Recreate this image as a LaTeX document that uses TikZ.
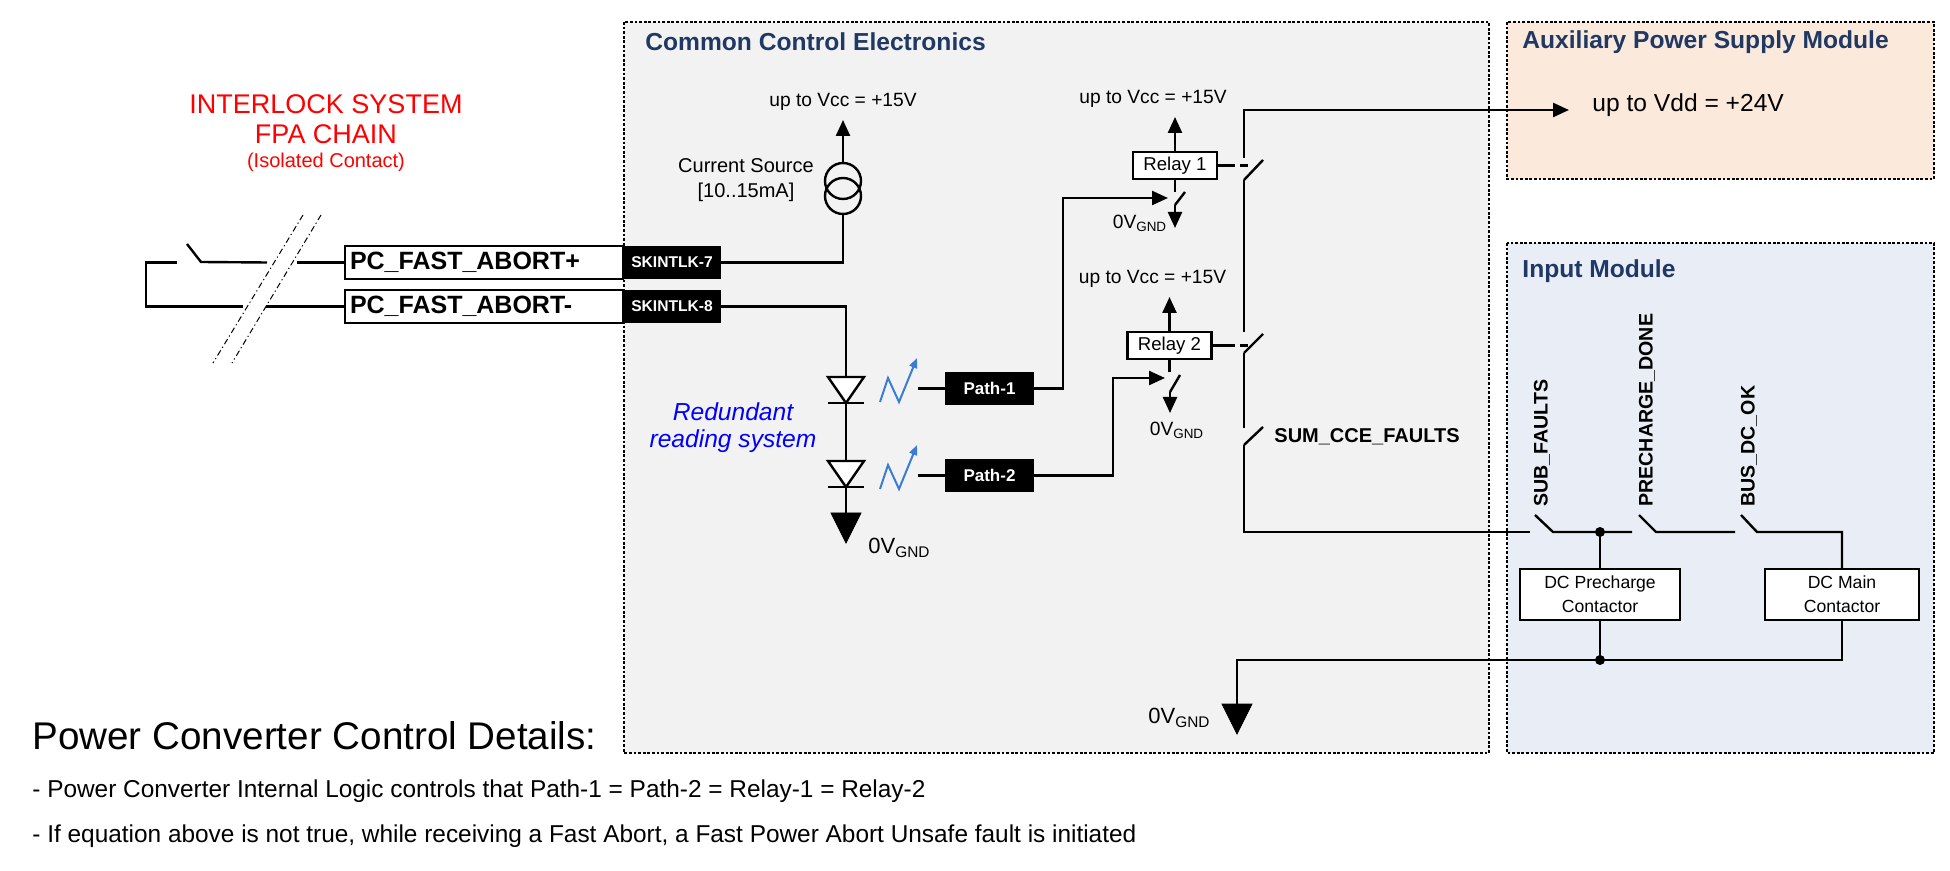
\documentclass[tikz,border=0pt]{standalone}
\usepackage{fontspec}
\setmainfont{Liberation Sans}
\usetikzlibrary{arrows.meta,calc}
\definecolor{titleblue}{HTML}{1F3864}
\definecolor{ccegray}{HTML}{F2F2F2}
\definecolor{auxpeach}{HTML}{FBE9DB}
\definecolor{inpblue}{HTML}{E9EEF6}
\definecolor{ledblue}{HTML}{3A7BD5}
\newcommand\fs[2]{\fontsize{#1}{#2}\selectfont}
\tikzset{
  module/.style={draw, line width=0.9pt, dash pattern=on 1.4pt off 0.9pt},
  modtitle/.style={anchor=west, inner sep=0, text=titleblue, font=\bfseries\fs{12.3}{14}},
  wire/.style={line width=1.2pt},
  tip/.style={-{Triangle[length=8pt,width=7pt]}},
  volt/.style={inner sep=0, font=\fs{9.6}{12}},
  sigbox/.style={draw, line width=0.8pt, fill=white, minimum width=139pt, minimum height=16.5pt,
    inner sep=0, text width=134pt, align=left, font=\bfseries\fs{12.5}{14}},
  termbox/.style={fill=black, text=white, minimum width=49pt, minimum height=16.5pt, inner sep=0,
    font=\bfseries\fs{7.8}{9}},
  pathbox/.style={fill=black, text=white, minimum width=44.5pt, minimum height=16.5pt, inner sep=0,
    font=\bfseries\fs{8.5}{10}},
  relay/.style={draw, line width=1.2pt, fill=white, minimum width=42pt, minimum height=13.5pt,
    inner sep=0, font=\fs{9.3}{11}},
  contactor/.style={draw, line width=1.2pt, fill=white, minimum height=25.5pt, inner sep=0,
    align=center, font=\fs{8.8}{12}},
  led/.style={line width=1pt, ledblue, -{Triangle[length=5pt,width=4pt]}},
  brk/.style={line width=0.5pt, dash pattern=on 3pt off 1.5pt on 0.6pt off 1.5pt},
  siglabel/.style={rotate=90, anchor=west, inner sep=0, font=\bfseries\fs{9.8}{11}},
}
\begin{document}
\begin{tikzpicture}[x=0.5pt,y=-0.5pt]
\useasboundingbox (0,0) rectangle (1950,871);

% modules
\draw[module, fill=ccegray] (624,22) rectangle (1489,753);
\draw[module, fill=auxpeach] (1507,22) rectangle (1934,179);
\draw[module, fill=inpblue] (1507,243) rectangle (1934,753);
\node[modtitle] at (645,42) {Common Control Electronics};
\node[modtitle] at (1522,42) {Auxiliary Power Supply Module};
\node[modtitle] at (1522,271) {Input Module};

% interlock side
\node[text=red, font=\fs{13.5}{15}] at (326,104) {INTERLOCK SYSTEM};
\node[text=red, font=\fs{13.5}{15}] at (326,134) {FPA CHAIN};
\node[text=red, font=\fs{10}{12}] at (326,162) {(Isolated Contact)};

\node[sigbox] (sigP) at (484,262.5) {PC\_FAST\_ABORT+};
\node[sigbox] (sigM) at (484,306.5) {PC\_FAST\_ABORT-};
\node[termbox] (term7) at (672,262.5) {SKINTLK-7};
\node[termbox] (term8) at (672,306.5) {SKINTLK-8};

% loop with isolated contact
\coordinate (swA) at (187,244);
\coordinate (swB) at (201,262);
\draw[wire] (sigP.west) -- (297,262.5);
\draw[wire] (267,262.5) -- (swB) -- (swA);
\draw[wire] (177,262.5) -- (146,262.5) -- (146,306.5) -- (243,306.5);
\draw[wire] (266,306.5) -- (sigM.west);
\draw[brk] (303,215) -- (213,363);
\draw[brk] (321,215) -- (232,363);

% current source
\coordinate (csT) at (843,163);
\coordinate (csB) at (843,213);
\draw[wire] (843,181) circle (9pt);
\draw[wire] (843,196) circle (9pt);
\draw[wire] (term7.east) -| (csB);
\draw[wire, tip] (csT) -- (843,120) node[volt, above=4pt] {up to Vcc = +15V};
\node[font=\fs{10}{12}] at (746,166) {Current Source};
\node[font=\fs{10}{12}] at (746,192) {[10..15mA]};

% redundant reading: two opto diodes
\draw[wire] (term8.east) -| (846,377);
\foreach \y in {377,461}{
  \draw[wire, fill=white] (828,\y) -- (864,\y) -- (846,\y+26) -- cycle;
  \draw[wire] (828,\y+26) -- (864,\y+26);
}
\draw[wire] (846,403) -- (846,461);
\draw[wire] (846,487) -- (846,513);
\draw[fill=black] (831,513) -- (861,513) -- (846,543) -- cycle;
\node[volt, anchor=west, font=\fs{11}{13}] at (868,548) {0V\textsubscript{GND}};
\node[text=blue, font=\itshape\fs{12.3}{14}] at (733,412) {Redundant};
\node[text=blue, font=\itshape\fs{12.3}{14}] at (733,441) {reading system};

\node[pathbox] (pathA) at (989.5,388.5) {Path-1};
\node[pathbox] (pathB) at (989.5,475.5) {Path-2};
\foreach \dy in {0,87}{
  \draw[led] (880,402+\dy) -- (888,378+\dy) -- (899,402+\dy) -- (917,358+\dy);
}
\draw[wire] (918,388.5) -- (pathA.west);
\draw[wire] (918,475.5) -- (pathB.west);

% relays
\node[relay] (relayA) at (1175,165.5) {Relay 1};
\node[relay] (relayB) at (1169.5,345.5) {Relay 2};
\draw[wire, tip] (relayA.north) -- (1175,117) node[volt, above=4pt, xshift=-11pt] {up to Vcc = +15V};
\draw[wire, tip] (relayB.north) -- (1169.5,297) node[volt, above=4pt, xshift=-8.5pt] {up to Vcc = +15V};

\coordinate (inA) at (1168,198);
\coordinate (inB) at (1165,378);
\draw[wire, tip] (pathA.east) -- (1063,388.5) |- (inA);
\draw[wire, tip] (pathB.east) -- (1113,475.5) |- (inB);

\draw[wire] (relayA.south) -- (1175,192);
\draw[wire] (1185,192) -- (1175,205);
\draw[wire, tip] (1175,205) -- (1175,228);
\node[volt] at (1140,223) {0V\textsubscript{GND}};
\draw[wire] (relayB.south) -- (1169.5,372);
\draw[wire] (1180,375) -- (1170,392);
\draw[wire, tip] (1170,392) -- (1170,413);
\node[volt] at (1177,430) {0V\textsubscript{GND}};

% relay contacts in series
\draw[wire] (relayA.east) -- (1235,165.5);
\draw[wire] (1240,165.5) -- (1248,165.5);
\draw[wire] (relayB.east) -- (1235,345.5);
\draw[wire] (1240,345.5) -- (1248,345.5);
\draw[wire] (1244,180) -- (1263,160);
\draw[wire] (1244,353) -- (1263,334);
\draw[wire] (1263,427) -- (1244,445);
\draw[wire, tip] (1244,158) |- (1569,110);
\node[inner sep=0, anchor=west, font=\fs{12.3}{14}] at (1592,105) {up to Vdd = +24V};
\draw[wire] (1244,180) -- (1244,332);
\draw[wire] (1244,353) -- (1244,428);
\node[anchor=west, inner sep=0, font=\bfseries\fs{10}{12}] at (1274,437) {SUM\_CCE\_FAULTS};

% input module chain
\node[contactor, minimum width=80pt] (preC) at (1600,594.5) {DC Precharge\\Contactor};
\node[contactor, minimum width=77pt] (mainC) at (1842,594.5) {DC Main\\Contactor};
\draw[wire] (1244,445) -- (1244,532) -- (1530,532);
\draw[wire] (1535,515) -- (1553,532) -- (1632,532);
\draw[wire] (1639,515) -- (1656,532) -- (1735,532);
\draw[wire] (1741,515) -- (1757,532) -| (mainC.north);
\draw[wire] (1600,532) -- (preC.north);
\fill (1600,532) circle (2.5pt);
\node[siglabel] at (1542,507) {SUB\_FAULTS};
\node[siglabel] at (1647,507) {PRECHARGE\_DONE};
\node[siglabel] at (1749,507) {BUS\_DC\_OK};

\draw[wire] (preC.south) -- (1600,660);
\draw[wire] (mainC.south) |- (1237,660) -- (1237,704);
\fill (1600,660) circle (2.5pt);
\draw[fill=black] (1222,704) -- (1252,704) -- (1237,734) -- cycle;
\node[volt, anchor=east, font=\fs{11}{13}] at (1211,718) {0V\textsubscript{GND}};

% notes
\node[anchor=west, inner sep=0, font=\fs{19.3}{23}] at (32,736) {Power Converter Control Details:};
\node[anchor=west, inner sep=0, font=\fs{12.2}{14}] at (32,791)
  {- Power Converter Internal Logic controls that Path-1 = Path-2 = Relay-1 = Relay-2};
\node[anchor=west, inner sep=0, font=\fs{12.2}{14}] at (32,836)
  {- If equation above is not true, while receiving a Fast Abort, a Fast Power Abort Unsafe fault is initiated};
\end{tikzpicture}
\end{document}
